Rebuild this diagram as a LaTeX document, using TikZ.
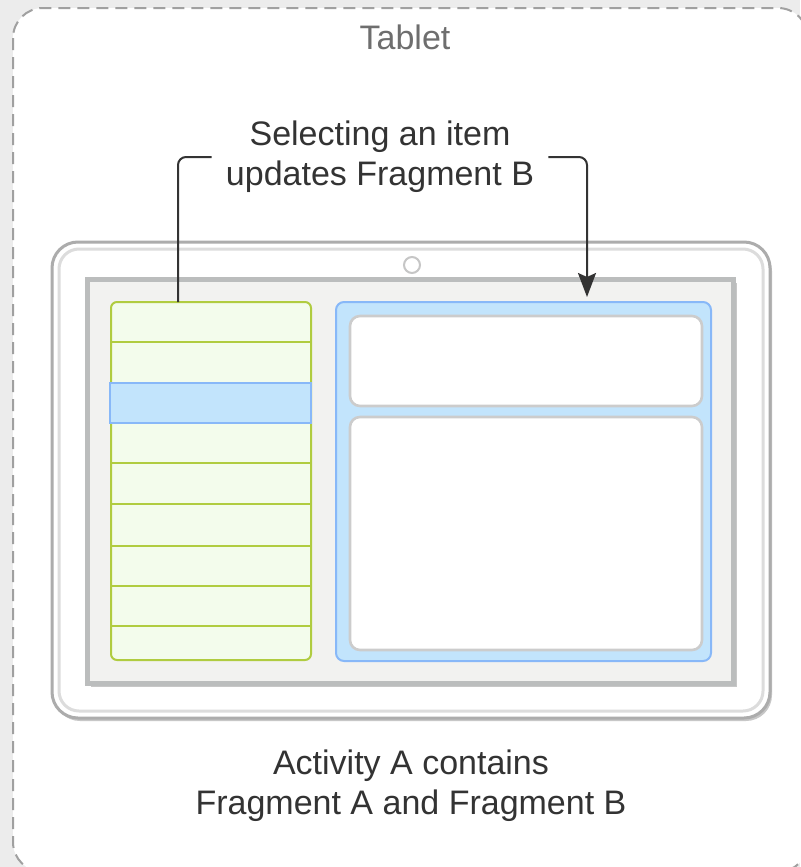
\documentclass[tikz,border=0pt]{standalone}
\usepackage{fontspec}
\setmainfont{Liberation Sans}
\usetikzlibrary{arrows.meta,shadows}

\definecolor{pageGray}{RGB}{236,236,236}
\definecolor{boxGray}{RGB}{160,160,160}
\definecolor{labelGray}{RGB}{110,110,110}
\definecolor{textDark}{RGB}{51,51,51}
\definecolor{frameGray}{RGB}{172,172,172}
\definecolor{bezelGray}{RGB}{220,220,220}
\definecolor{screenFill}{RGB}{242,242,240}
\definecolor{screenEdge}{RGB}{187,189,189}
\definecolor{listGreen}{RGB}{176,204,64}
\definecolor{listFill}{RGB}{243,252,236}
\definecolor{selFill}{RGB}{194,228,252}
\definecolor{selEdge}{RGB}{136,184,248}
\definecolor{cardEdge}{RGB}{204,204,204}

\begin{document}
\begin{tikzpicture}[x=0.5pt, y=-0.5pt,
    container/.style = {draw=boxGray, line width=1pt, dash pattern=on 6pt off 3.5pt, fill=white, rounded corners=15pt},
    tabletbody/.style = {draw=frameGray, line width=1.5pt, fill=white, rounded corners=13pt, inner sep=0pt, outer sep=0pt,
        drop shadow={shadow xshift=1pt, shadow yshift=-1.5pt, fill=black!22, opacity=1}},
    bezel/.style = {draw=bezelGray, line width=1.5pt, rounded corners=10pt, inner sep=0pt, outer sep=0pt},
    camera/.style = {draw=bezelGray!90!black, line width=1pt, fill=white, circle, minimum size=8pt, inner sep=0pt},
    screen/.style = {draw=screenEdge, line width=2.5pt, fill=screenFill, inner sep=0pt, outer sep=0pt,
        drop shadow={shadow xshift=2pt, shadow yshift=-2pt, fill=black!22, opacity=1}},
    fraglist/.style = {draw=listGreen, line width=1pt, fill=listFill, rounded corners=3pt, inner sep=0pt, outer sep=0pt},
    selrow/.style = {draw=selEdge, line width=1.2pt, fill=selFill, inner sep=0pt, outer sep=0pt},
    fragpane/.style = {draw=selEdge, line width=1pt, fill=selFill, rounded corners=4pt, inner sep=0pt, outer sep=0pt},
    card/.style = {draw=cardEdge, line width=1.3pt, fill=white, rounded corners=5pt, inner sep=0pt, outer sep=0pt},
    caption/.style = {font=\fontsize{17}{20}\selectfont, align=center, text=textDark, inner sep=0pt},
    link/.style = {draw=textDark, line width=1pt, rounded corners=4pt}]

    \fill[pageGray] (0,0) rectangle (800,867);
    \useasboundingbox (0,0) rectangle (800,867);
    \draw[container] (13,8) rectangle (808,872);

    \node[caption, text=labelGray] (title) at (405,37.5) {Tablet};

    \node[tabletbody, minimum width=359pt, minimum height=238pt] (tablet) at (411,480) {};
    \node[bezel, minimum width=352pt, minimum height=231pt] (bezel) at (tablet.center) {};
    \node[camera] (cam) at (412,265) {};
    \node[screen, minimum width=323pt, minimum height=202pt] (screen) at (410,481) {};

    \node[fraglist, minimum width=100pt, minimum height=179pt] (fragA) at (211,481) {};
    \foreach \y in {342,463,504,546,586,626}
        \draw[listGreen, line width=1pt] (111,\y) -- (311,\y);
    \node[selrow, minimum width=100.5pt, minimum height=20pt] (item) at (210.5,403) {};

    \node[fragpane, minimum width=187.5pt, minimum height=179.5pt] (fragB) at (523.5,481.5) {};
    \node[card, minimum width=176pt, minimum height=45pt] (header) at (526,361) {};
    \node[card, minimum width=176pt, minimum height=116.5pt] (detail) at (526,533.5) {};

    \node[caption, fill=white, inner xsep=7pt] (hint) at (380,157) {Selecting an item\\updates Fragment B};
    \draw[link] ([xshift=-16.5pt]fragA.north) |- (hint.west);
    \draw[link, -{Stealth[length=12pt, width=9pt, inset=2pt]}, shorten >=2.5pt] (hint.east) -| ([xshift=31.75pt]fragB.north);

    \node[caption] (note) at (411,786) {Activity A contains\\Fragment A and Fragment B};

\end{tikzpicture}
\end{document}
